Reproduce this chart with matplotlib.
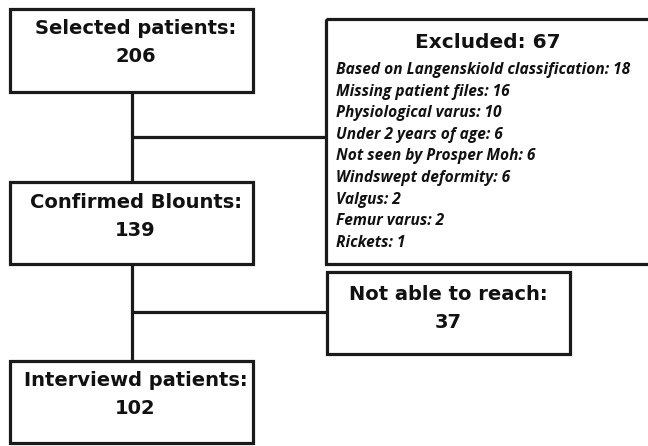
import matplotlib
matplotlib.use("Agg")
import matplotlib.pyplot as plt
from matplotlib.patches import Rectangle

# Data
stage_labels = ["Selected patients:", "Confirmed Blounts:", "Interviewd patients:"]
stage_counts = [206, 139, 102]
excluded_total = 67
excluded_reasons = ["Based on Langenskiold classification", "Missing patient files",
                    "Physiological varus", "Under 2 years of age", "Not seen by Prosper Moh",
                    "Windswept deformity", "Valgus", "Femur varus", "Rickets"]
excluded_counts = [18, 16, 10, 6, 6, 6, 2, 2, 1]
lost_label = "Not able to reach:"
lost_count = 37

W, H = 648, 446
fig = plt.figure(figsize=(W / 100, H / 100), dpi=100)
ax = fig.add_axes([0, 0, 1, 1])
ax.set_xlim(0, W)
ax.set_ylim(H, 0)
ax.axis("off")

LC = "#1a1a1a"
LW = 2.3
main_font = "DejaVu Sans"
MFS = 14

def box(x0, y0, x1, y1):
    ax.add_patch(Rectangle((x0, y0), x1 - x0, y1 - y0, fill=False, ec=LC, lw=LW,
                           joinstyle="miter", clip_on=True))

# main stage boxes
stage_boxes = [(10, 9, 253, 92), (10, 182, 253, 264), (10, 361, 253, 443)]
for (x0, y0, x1, y1), lab, cnt in zip(stage_boxes, stage_labels, stage_counts):
    box(x0, y0, x1, y1)
    cx = (x0 + x1) / 2
    ax.text(cx + 4, y0 + 20, lab, ha="center", va="center", fontsize=MFS,
            fontweight="bold", family=main_font, color="#111")
    ax.text(cx + 4, y0 + 48, str(cnt), ha="center", va="center", fontsize=MFS,
            fontweight="bold", family=main_font, color="#111")

# connectors
ax.plot([132, 132], [92, 182], color=LC, lw=LW, solid_capstyle="butt")
ax.plot([132, 326], [137, 137], color=LC, lw=LW, solid_capstyle="butt")
ax.plot([132, 132], [264, 361], color=LC, lw=LW, solid_capstyle="butt")
ax.plot([132, 327], [312, 312], color=LC, lw=LW, solid_capstyle="butt")

# excluded box
box(326, 19, 652, 264)
ax.text(488, 42, f"Excluded: {excluded_total}", ha="center", va="center", fontsize=14.5,
        fontweight="bold", family=main_font, color="#111")
y = 70
for r, c in zip(excluded_reasons, excluded_counts):
    ax.text(336, y, f"{r}: {c}", ha="left", va="center", fontsize=11.2,
            fontweight="bold", style="italic", family="Open Sans", color="#111")
    y += 21.6

# not able to reach box
box(327, 272, 570, 354)
ax.text(448, 295, lost_label, ha="center", va="center", fontsize=MFS,
        fontweight="bold", family=main_font, color="#111")
ax.text(448, 323, str(lost_count), ha="center", va="center", fontsize=MFS,
        fontweight="bold", family=main_font, color="#111")

fig.savefig("out.png", dpi=100)
